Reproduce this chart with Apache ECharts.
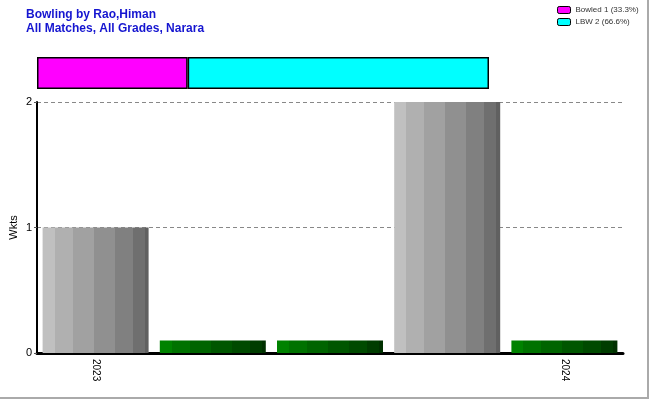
<!DOCTYPE html>
<html><head><meta charset="utf-8">
<script src="https://cdn.jsdelivr.net/npm/echarts@6/dist/echarts.min.js"></script>
<style>html,body{margin:0;padding:0;background:#fff}#c{width:650px;height:400px}</style>
</head><body><div id="c"></div>
<script>
const titleLines = ['Bowling by Rao,Himan', 'All Matches, All Grades, Narara'];
const categories = ['2023', '', '', '', '2024'];
const wickets = [1, null, null, 2, null];
const others = [null, 0.1, 0.1, null, 0.1];
const dismissalNames = ['Bowled 1 (33.3%)', 'LBW 2 (66.6%)'];
const dismissalValues = [1, 2];
const dismissalColors = ['#ff00ff', '#00ffff'];
const yTicks = [0, 1, 2];

const stops = [0, .113, .283, .481, .679, .849, .962, 1];
function striped(colors) {
  const cs = [];
  for (let i = 0; i < colors.length; i++) {
    cs.push({offset: stops[i], color: colors[i]});
    cs.push({offset: stops[i + 1], color: colors[i]});
  }
  return new echarts.graphic.LinearGradient(0, 0, 1, 0, cs);
}
const grayFill = striped(['#c0c0c0', '#b0b0b0', '#a1a1a1', '#909090', '#808080', '#6f6f6f', '#606060']);
const greenFill = striped(['#008200', '#007200', '#006400', '#005600', '#004a00', '#003c00', '#003000']);

const chart = echarts.init(document.getElementById('c'), null, {renderer: 'canvas'});
const font = 'Liberation Sans, Arial, sans-serif';
chart.setOption({
  animation: false,
  backgroundColor: '#fff',
  title: {
    text: titleLines.join('\n'), left: 21, top: 3,
    textStyle: {color: '#1515d0', fontSize: 12, fontWeight: 'bold', fontFamily: font, lineHeight: 14}
  },
  legend: {
    data: dismissalNames, orient: 'vertical', left: 552, top: 1, itemWidth: 13, itemHeight: 7, itemGap: 4,
    textStyle: {fontSize: 8, color: '#333', fontFamily: font},
    itemStyle: {borderColor: '#000', borderWidth: 1}
  },
  grid: [
    {left: 37, top: 57, width: 452, height: 32, show: false, outerBoundsMode: 'none', containLabel: false},
    {left: 37, top: 102, width: 586, height: 251, show: false, outerBoundsMode: 'none', containLabel: false}
  ],
  xAxis: [
    {gridIndex: 0, type: 'value', min: 0, max: 3, show: false},
    {gridIndex: 1, type: 'category', data: categories,
      axisLine: {lineStyle: {color: '#000', width: 3}},
      axisTick: {alignWithLabel: true, length: 4, lineStyle: {color: '#555'}},
      axisLabel: {rotate: -90, color: '#000', fontSize: 10, fontFamily: font, margin: 6, interval: 0}}
  ],
  yAxis: [
    {gridIndex: 0, type: 'category', data: [''], show: false},
    {gridIndex: 1, type: 'value', min: yTicks[0], max: yTicks[yTicks.length - 1], interval: 1,
      name: 'Wkts', nameLocation: 'middle', nameGap: 18, nameMoveOverlap: false,
      nameTextStyle: {color: '#000', fontSize: 11, fontFamily: font},
      axisLine: {show: true, lineStyle: {color: '#000', width: 2}},
      axisTick: {show: true, length: 3, lineStyle: {color: '#555'}},
      axisLabel: {color: '#000', fontSize: 11, fontFamily: font, margin: 5},
      splitLine: {lineStyle: {color: '#888', type: [4, 3], width: 1}}}
  ],
  series: [
    ...dismissalNames.map((n, i) => ({
      name: n, type: 'bar', xAxisIndex: 0, yAxisIndex: 0, stack: 'd', barWidth: 32,
      data: [dismissalValues[i]],
      itemStyle: {color: dismissalColors[i], borderColor: '#000', borderWidth: 1.5}
    })),
    {type: 'bar', xAxisIndex: 1, yAxisIndex: 1, stack: 'w', barWidth: 106, data: wickets,
      itemStyle: {color: grayFill}},
    {type: 'bar', xAxisIndex: 1, yAxisIndex: 1, stack: 'w', barWidth: 106, data: others,
      itemStyle: {color: greenFill}}
  ],
  graphic: [
    {type: 'line', shape: {x1: 648, y1: 0, x2: 648, y2: 398}, style: {stroke: '#aaa', lineWidth: 2}},
    {type: 'line', shape: {x1: 0, y1: 398, x2: 649, y2: 398}, style: {stroke: '#aaa', lineWidth: 2}}
  ]
});
</script></body></html>
